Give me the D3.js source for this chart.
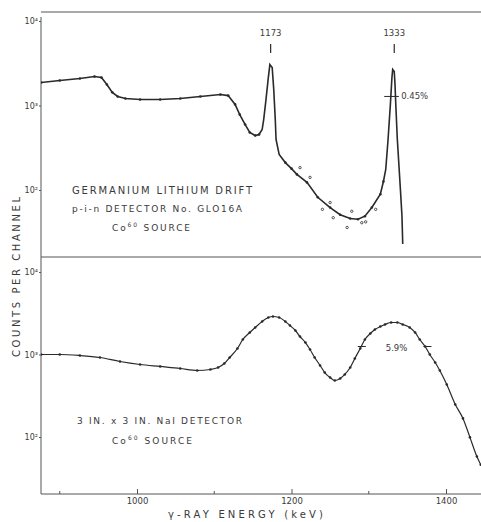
<!DOCTYPE html>
<html>
<head>
<meta charset="utf-8">
<script src="https://cdn.jsdelivr.net/npm/d3@7"></script>
<style>
  html, body { margin: 0; padding: 0; background: #fff; }
  svg text { font-family: "DejaVu Sans", sans-serif; fill: #3a3a3a; }
</style>
</head>
<body>
<div id="chart"></div>
<script>
// Ge(Li) spectrum (top panel)
const geEnergy = [876, 900, 926, 945, 954, 961, 968, 975, 985, 1004, 1030, 1056, 1082, 1108, 1118, 1127, 1133,
  1140, 1146, 1153, 1158, 1162, 1164, 1167, 1170, 1172, 1175, 1177, 1179, 1180, 1184, 1192, 1200, 1207, 1220,
  1234, 1250, 1263, 1276, 1286, 1295, 1304, 1315, 1319, 1322, 1325, 1328, 1330, 1331, 1333, 1334, 1335, 1337,
  1339, 1341, 1343, 1344];
const geCounts = [1870, 1980, 2090, 2200, 2140, 1770, 1430, 1280, 1210, 1180, 1180, 1210, 1280, 1350, 1310, 1030, 780,
  595, 480, 441, 454, 520, 682, 1180, 2140, 3050, 2820, 1550, 682, 396, 263, 211, 179, 153, 123,
  82, 62, 51, 46, 45, 49, 62, 89, 126, 175, 396, 1030, 2140, 2670, 2520, 1770, 1030, 396,
  200, 101, 49, 23];
// stray points scattered around the valley
const geScatterEnergy = [1211, 1224, 1240, 1250, 1254, 1272, 1278, 1291, 1296, 1309];
const geScatterCounts = [184, 141, 59, 71, 47, 36, 56, 41, 42, 59];

// NaI spectrum (bottom panel)
const naiEnergy = [876, 900, 926, 952, 978, 1004, 1030, 1056, 1078, 1095, 1105, 1113, 1120, 1130, 1137, 1146,
  1153, 1162, 1170, 1176, 1184, 1192, 1198, 1205, 1211, 1218, 1224, 1230, 1237, 1243, 1250, 1256, 1263,
  1269, 1276, 1282, 1289, 1295, 1302, 1308, 1315, 1321, 1329, 1337, 1344, 1353, 1360, 1366, 1373, 1379,
  1386, 1392, 1401, 1412, 1422, 1431, 1440, 1445];
const naiCounts = [1000, 1000, 972, 920, 823, 757, 716, 677, 640, 658, 695, 778, 920, 1182, 1520, 1848,
  2124, 2512, 2808, 2890, 2808, 2512, 2249, 1955, 1652, 1397, 1150, 920, 736, 605, 526, 484, 512,
  573, 695, 895, 1182, 1520, 1798, 2010, 2183, 2311, 2443, 2443, 2311, 2124, 1848, 1520, 1250, 1000,
  800, 640, 432, 248, 168, 99, 58, 46];

const peakEnergies = [1173, 1333];
const xTicks = [1000, 1200, 1400];
const xMinorTicks = [900, 1100, 1300];
const yTicks = [100, 1000, 10000];
const yTickLabels = ["10²", "10³", "10⁴"];

const W = 481, H = 522;
const left = 41, right = 481;
const topY = 12, midY = 257, botY = 494;
const ink = "#2a2a2a";

const svg = d3.select("#chart").append("svg")
  .attr("width", W).attr("height", H);

const x = d3.scaleLinear().domain([1000, 1400]).range([137, 446]);
const yTop = d3.scaleLog().domain([100, 10000]).range([190, 21]);
const yBot = d3.scaleLog().domain([100, 10000]).range([437, 272]);

// clip regions for the two panels
const defs = svg.append("defs");
defs.append("clipPath").attr("id", "clipTop").append("rect")
  .attr("x", left).attr("y", topY).attr("width", right - left).attr("height", midY - topY);
defs.append("clipPath").attr("id", "clipBot").append("rect")
  .attr("x", left).attr("y", midY).attr("width", right - left).attr("height", botY - midY);

// frame lines
const frame = svg.append("g").attr("stroke", "#555").attr("stroke-width", 1).attr("fill", "none");
frame.append("line").attr("x1", left).attr("x2", right).attr("y1", topY).attr("y2", topY);
frame.append("line").attr("x1", left).attr("x2", right).attr("y1", midY).attr("y2", midY);
frame.append("line").attr("x1", left).attr("x2", left).attr("y1", topY + 5).attr("y2", botY);

// y axes, labels sit right against the axis line
function yAxis(scale) {
  return d3.axisLeft(scale).tickValues(yTicks).tickSize(2).tickPadding(1)
    .tickFormat((d, i) => yTickLabels[i]);
}
[yTop, yBot].forEach(s => {
  const g = svg.append("g").attr("transform", `translate(${left},0)`).call(yAxis(s));
  g.select(".domain").remove();
  g.selectAll("line").attr("stroke", "#555");
  g.selectAll("text").attr("font-size", 8).attr("fill", "#3a3a3a").attr("font-family", "DejaVu Sans");
});

// x axis
const xAxis = d3.axisBottom(x).tickValues(xTicks).tickSizeInner(-5).tickSizeOuter(0).tickPadding(4)
  .tickFormat(d3.format("d"));
const gx = svg.append("g").attr("transform", `translate(0,${botY})`).call(xAxis);
gx.select(".domain").attr("d", `M${left},0H${right}`).attr("stroke", "#555");
gx.selectAll("line").attr("stroke", "#555");
gx.selectAll("text").attr("font-size", 8.5).attr("fill", "#3a3a3a").attr("font-family", "DejaVu Sans");
svg.append("g").selectAll("line").data(xMinorTicks).join("line")
  .attr("x1", d => x(d)).attr("x2", d => x(d))
  .attr("y1", botY).attr("y2", botY - 3)
  .attr("stroke", "#555");

// spectra
const geData = geEnergy.map((e, i) => [e, geCounts[i]]);
const naiData = naiEnergy.map((e, i) => [e, naiCounts[i]]);

const gTop = svg.append("g").attr("clip-path", "url(#clipTop)");
gTop.append("path").datum(geData)
  .attr("fill", "none").attr("stroke", ink).attr("stroke-width", 1.6)
  .attr("d", d3.line().x(d => x(d[0])).y(d => yTop(d[1])));
gTop.selectAll("circle.pt").data(geData.filter(d => d[0] < 1160 || (d[0] > 1185 && d[0] < 1320)))
  .join("circle").attr("class", "pt")
  .attr("cx", d => x(d[0])).attr("cy", d => yTop(d[1])).attr("r", 1.3).attr("fill", ink);
gTop.selectAll("circle.sc").data(geScatterEnergy.map((e, i) => [e, geScatterCounts[i]]))
  .join("circle").attr("class", "sc")
  .attr("cx", d => x(d[0])).attr("cy", d => yTop(d[1])).attr("r", 1.2)
  .attr("fill", "none").attr("stroke", ink).attr("stroke-width", 0.8);

const gBot = svg.append("g").attr("clip-path", "url(#clipBot)");
gBot.append("path").datum(naiData)
  .attr("fill", "none").attr("stroke", ink).attr("stroke-width", 1.2)
  .attr("d", d3.line().curve(d3.curveMonotoneX).x(d => x(d[0])).y(d => yBot(d[1])));
gBot.selectAll("circle").data(naiData)
  .join("circle")
  .attr("cx", d => x(d[0])).attr("cy", d => yBot(d[1])).attr("r", 1.3).attr("fill", ink);

// peak markers
peakEnergies.forEach(e => {
  svg.append("text").attr("x", x(e)).attr("y", 36).attr("text-anchor", "middle")
    .attr("font-size", 8.5).text(e);
  svg.append("line").attr("x1", x(e)).attr("x2", x(e)).attr("y1", 44).attr("y2", 53)
    .attr("stroke", ink).attr("stroke-width", 1.2);
});

// FWHM markers
svg.append("line").attr("x1", x(1320)).attr("x2", x(1339)).attr("y1", yTop(1280)).attr("y2", yTop(1280))
  .attr("stroke", ink).attr("stroke-width", 1);
svg.append("text").attr("x", x(1342)).attr("y", yTop(1280) + 3).attr("font-size", 8.5).text("0.45%");
[1291, 1376].forEach(e => {
  svg.append("line").attr("x1", x(e) - 4).attr("x2", x(e) + 4).attr("y1", yBot(1250)).attr("y2", yBot(1250))
    .attr("stroke", ink).attr("stroke-width", 1);
});
svg.append("text").attr("x", x(1336)).attr("y", yBot(1250) + 4).attr("text-anchor", "middle")
  .attr("font-size", 8.5).text("5.9%");

// annotations
function label(xp, yp, len, parts, size) {
  const t = svg.append("text").attr("x", xp).attr("y", yp).attr("font-size", size || 10)
    .attr("textLength", len).attr("lengthAdjust", "spacing");
  parts.forEach(p => {
    const s = t.append("tspan").text(p.t);
    if (p.sup) s.attr("font-size", 6).attr("dy", -4);
    if (p.down) s.attr("dy", 4);
  });
  return t;
}
label(72, 194, 180, [{ t: "GERMANIUM  LITHIUM  DRIFT" }]);
label(72, 212, 170, [{ t: "p-i-n  DETECTOR  No.  GLO16A" }], 9);
label(112, 231, 78, [{ t: "Co" }, { t: "60", sup: true }, { t: "  SOURCE", down: true }], 9);
label(77, 424, 165, [{ t: "3 IN. x 3 IN.  NaI  DETECTOR" }], 9);
label(112, 444, 80, [{ t: "Co" }, { t: "60", sup: true }, { t: "  SOURCE", down: true }], 9);
label(168, 518, 155, [{ t: "γ-RAY  ENERGY  (keV)" }], 10);

svg.append("text")
  .attr("transform", "translate(20,277) rotate(-90)")
  .attr("text-anchor", "middle").attr("font-size", 10)
  .attr("textLength", 160).attr("lengthAdjust", "spacing")
  .text("COUNTS  PER  CHANNEL");
</script>
</body>
</html>
